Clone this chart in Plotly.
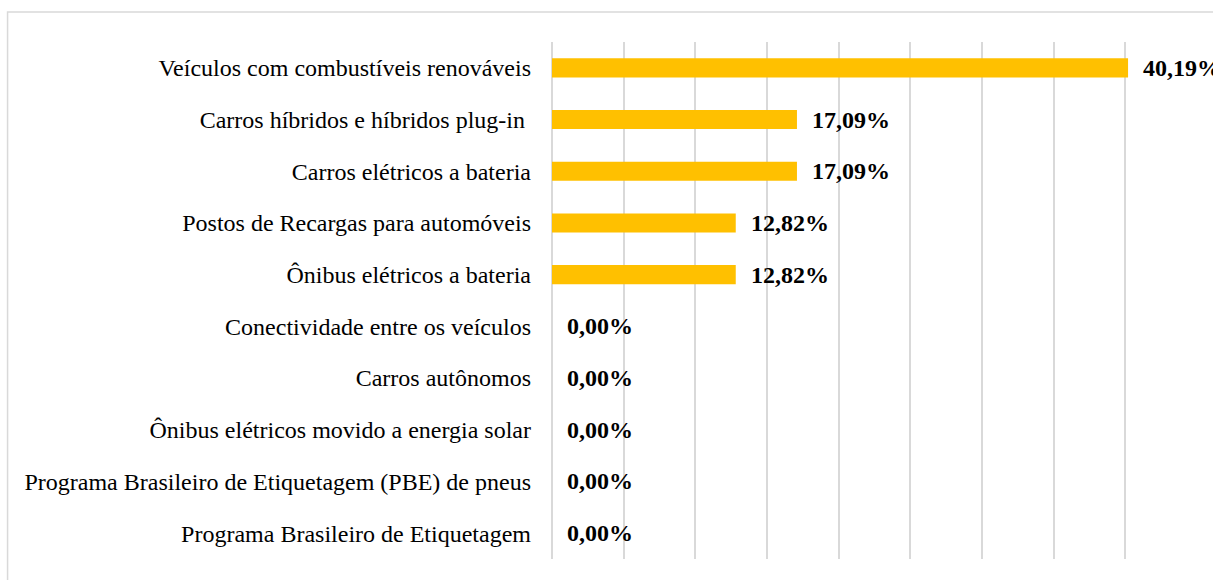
import plotly.graph_objects as go

categories = [
    "Veículos com combustíveis renováveis",
    "Carros híbridos e híbridos plug-in ",
    "Carros elétricos a bateria",
    "Postos de Recargas para automóveis",
    "Ônibus elétricos a bateria",
    "Conectividade entre os veículos",
    "Carros autônomos",
    "Ônibus elétricos movido a energia solar",
    "Programa Brasileiro de Etiquetagem (PBE) de pneus",
    "Programa Brasileiro de Etiquetagem",
]
values = [40.19, 17.09, 17.09, 12.82, 12.82, 0.00, 0.00, 0.00, 0.00, 0.00]

SERIF = "Liberation Serif, Times New Roman, serif"
GRID = "#d9d9d9"


def pt_br(v):
    return f"{v:.2f}".replace(".", ",") + "%"


fig = go.Figure(
    go.Bar(
        x=values,
        y=categories,
        orientation="h",
        marker=dict(color="#FFC000", line=dict(width=0)),
        width=0.37,
        hoverinfo="skip",
    )
)

# value labels placed just right of each bar end
for cat, v in zip(categories, values):
    fig.add_annotation(
        x=v, y=cat, xref="x", yref="y",
        text=f"<b>{pt_br(v)}</b>",
        showarrow=False, xanchor="left", xshift=13,
        font=dict(family=SERIF, size=24, color="#000000"),
    )

# light frame around the chart
fig.add_shape(
    type="rect", xref="paper", yref="paper",
    x0=-0.8441, x1=1.2, y0=-0.2, y1=1.058,
    line=dict(color=GRID, width=1.5), fillcolor="rgba(0,0,0,0)", layer="below",
)

fig.update_layout(
    width=1213, height=580,
    margin=dict(l=552, r=16, t=42, b=21),
    paper_bgcolor="white", plot_bgcolor="white",
    showlegend=False,
    font=dict(family=SERIF, size=24, color="#000000"),
    xaxis=dict(
        range=[0, 45], dtick=5, showgrid=True, gridcolor=GRID, gridwidth=1.5,
        zeroline=True, zerolinecolor=GRID, zerolinewidth=1.5,
        showticklabels=False, showline=False, ticks="", fixedrange=True,
    ),
    yaxis=dict(
        categoryorder="array", categoryarray=categories, autorange="reversed",
        showgrid=False, zeroline=False, showline=False, ticks="",
        ticklabelstandoff=20,
        tickfont=dict(family=SERIF, size=24, color="#000000"),
        fixedrange=True,
    ),
)

fig.write_html("out.html")
